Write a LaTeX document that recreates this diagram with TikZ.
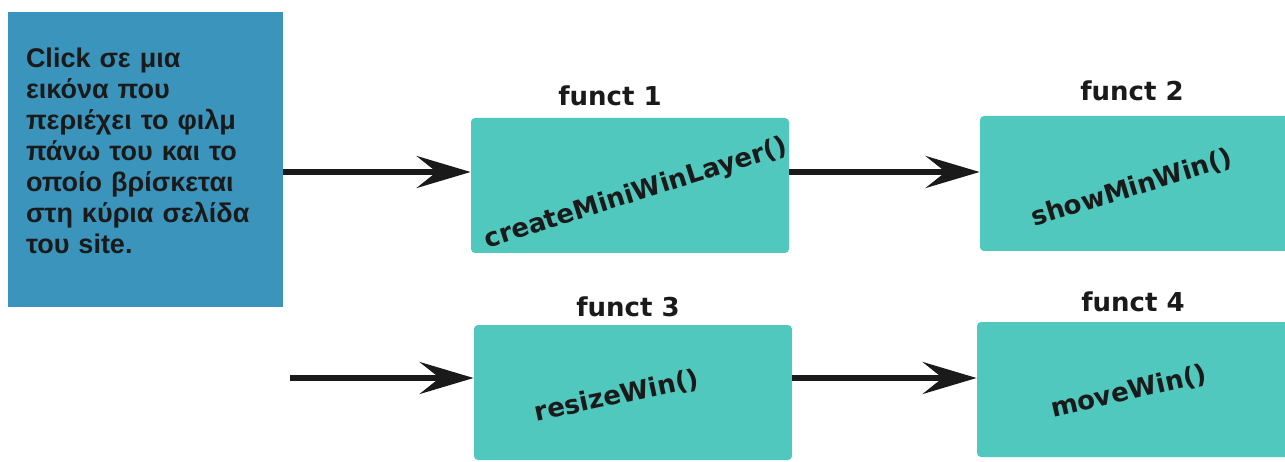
\documentclass[tikz,border=0pt]{standalone}
\usepackage{fontspec}
\usepackage{tikz}
\usetikzlibrary{arrows.meta}
\newfontfamily\clickfont{Liberation Sans}
\newfontfamily\functfont{DejaVu Sans}
\definecolor{clickblue}{RGB}{58,148,187}
\definecolor{functteal}{RGB}{80,200,190}
\definecolor{inkdark}{RGB}{26,26,26}

\begin{document}
\begin{tikzpicture}[x = 0.5pt, y = 0.5pt,
  clickbox/.style = {fill = clickblue, minimum width = 137.5pt, minimum height = 147.5pt, text width = 119.5pt, inner xsep = 9pt, inner ysep = 0pt, align = left, text = inkdark, font = \clickfont\bfseries\fontsize{13.5}{15.5}\selectfont},
  functbox/.style = {fill = functteal, rounded corners = 2pt, minimum width = 159pt, minimum height = 67.5pt, inner sep = 0pt},
  functname/.style = {inner sep = 0pt, text = inkdark, font = \functfont\bfseries\fontsize{13}{15}\selectfont},
  flow/.style = {line width = 2.6pt, draw = inkdark, -{Stealth[length = 27pt, width = 16pt, inset = 10pt]}}]

\useasboundingbox (0,0) rectangle (1285,461);
\clip (0,0) rectangle (1285,461);

\node[clickbox] (click) at (145.5, 301.5) {Click σε μια\\ εικόνα που\\ περιέχει το φιλμ\\ πάνω του και το\\ οποίο βρίσκεται\\ στη κύρια σελίδα\\ του site.\rule[-8.5pt]{0pt}{8.5pt}};

\node[functbox] (f1) at (630, 275.5) {};
\node[functbox] (f2) at (1139, 277.5) {};
\node[functbox] (f3) at (633, 68.5) {};
\node[functbox] (f4) at (1136, 71.5) {};

\node[functname, anchor = base] (l1) at (610, 355) {funct 1};
\node[functname, anchor = base] (l2) at (1132, 360) {funct 2};
\node[functname, anchor = base] (l3) at (628, 145) {funct 3};
\node[functname, anchor = base] (l4) at (1133, 149) {funct 4};

\node[functname, rotate = 17.5] (t1) at (636, 267) {createMiniWinLayer()};
\node[functname, rotate = 17] (t2) at (1132, 273) {showMinWin()};
\node[functname, rotate = 12] (t3) at (617, 65) {resizeWin()};
\node[functname, rotate = 13] (t4) at (1129, 69) {moveWin()};

\coordinate (row1) at (0, 289);
\coordinate (in3) at (290, 83);
\draw[flow] (click.east |- row1) -- (f1.west |- row1);
\draw[flow] (f1.east |- row1) -- (f2.west |- row1);
\draw[flow] (in3) -- (f3.west |- in3);
\draw[flow] (f3.east |- in3) -- (f4.west |- in3);
\end{tikzpicture}
\end{document}
